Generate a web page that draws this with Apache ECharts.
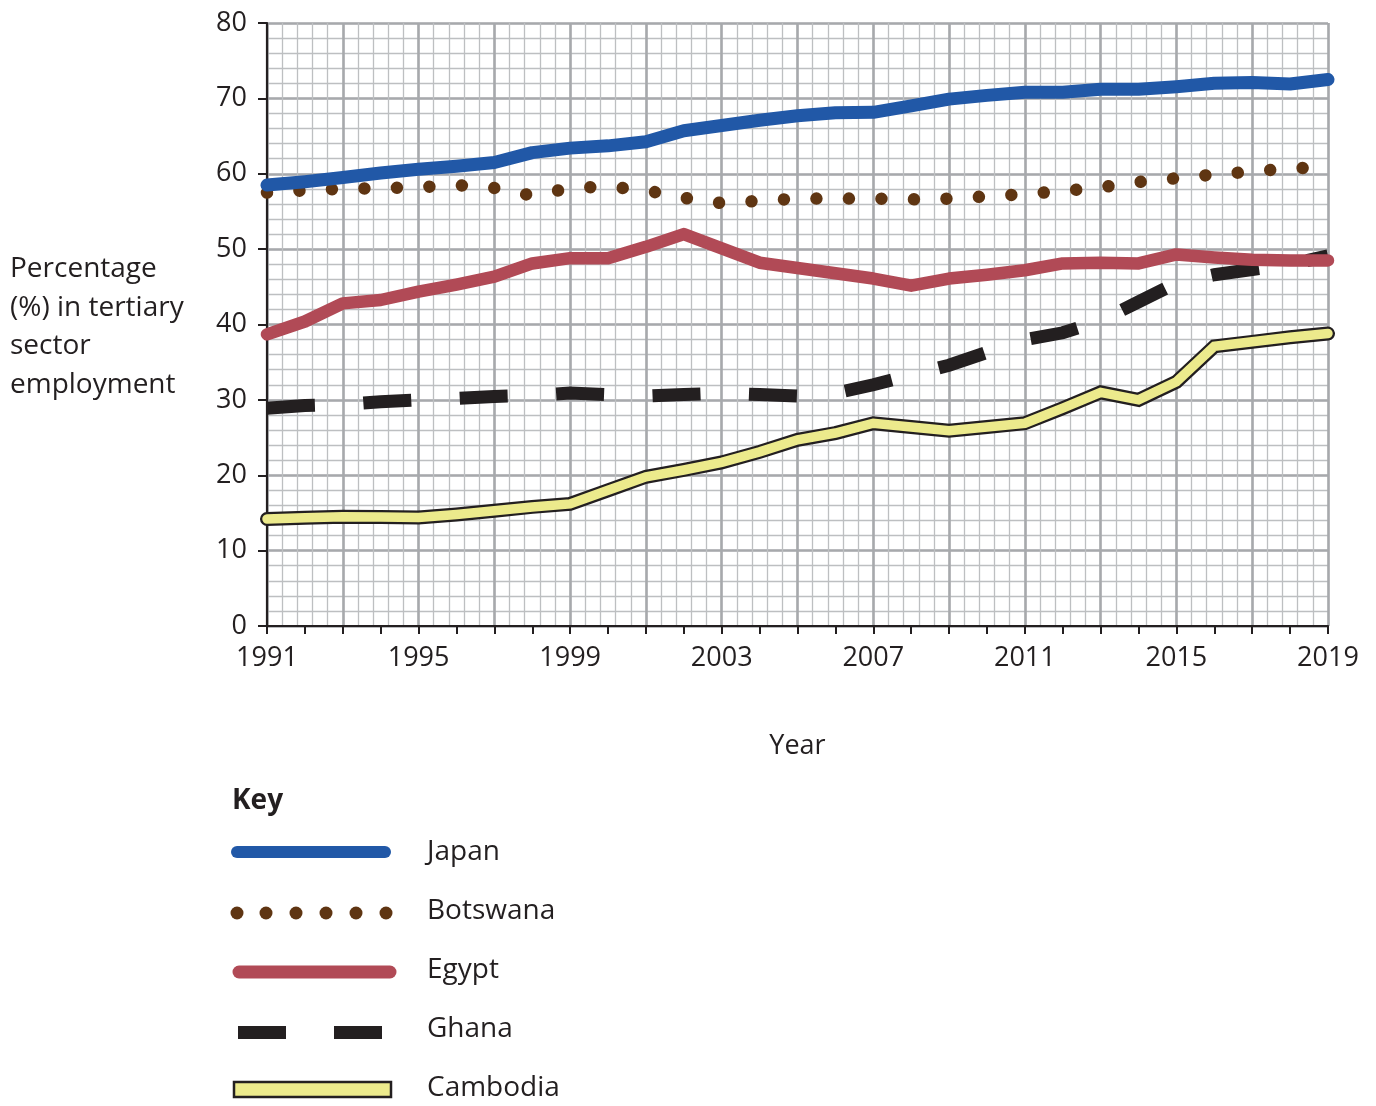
<!DOCTYPE html>
<html>
<head>
<meta charset="utf-8">
<script src="https://cdn.jsdelivr.net/npm/echarts@6/dist/echarts.min.js"></script>
<style>
  html, body { margin: 0; padding: 0; background: #ffffff; }
  #chart { width: 1376px; height: 1106px; }
</style>
</head>
<body>
<div id="chart"></div>
<script>
// ---- Data ----
const years = [1991, 1992, 1993, 1994, 1995, 1996, 1997, 1998, 1999, 2000,
               2001, 2002, 2003, 2004, 2005, 2006, 2007, 2008, 2009, 2010,
               2011, 2012, 2013, 2014, 2015, 2016, 2017, 2018, 2019];
const japan    = [58.5, 58.95, 59.5, 60.1, 60.6, 61.0, 61.5, 62.8, 63.4, 63.7,
                  64.25, 65.7, 66.4, 67.1, 67.7, 68.1, 68.15, 69.0, 69.9, 70.4,
                  70.8, 70.8, 71.2, 71.2, 71.55, 72.0, 72.1, 71.9, 72.5];
const botswana = [57.5, 57.8, 58.0, 58.1, 58.2, 58.5, 58.1, 57.1, 58.1, 58.3,
                  57.8, 56.8, 56.1, 56.4, 56.7, 56.7, 56.7, 56.6, 56.7, 57.0,
                  57.3, 57.7, 58.2, 58.9, 59.4, 59.9, 60.3, 60.7, 60.9];
const egypt    = [38.7, 40.4, 42.8, 43.25, 44.35, 45.3, 46.35, 48.1, 48.8, 48.8,
                  50.3, 52.0, 50.1, 48.2, 47.5, 46.8, 46.1, 45.15, 46.1, 46.6,
                  47.2, 48.1, 48.2, 48.1, 49.3, 48.9, 48.6, 48.5, 48.5];
const ghana    = [28.9, 29.25, 29.4, 29.75, 30.0, 30.2, 30.45, 30.6, 30.9, 30.7,
                  30.5, 30.7, 30.9, 30.7, 30.5, 30.9, 32.0, 33.3, 34.6, 36.3,
                  38.0, 38.9, 40.5, 43.0, 45.5, 46.6, 47.3, 48.0, 49.1];
const cambodia = [14.2, 14.35, 14.5, 14.45, 14.4, 14.8, 15.3, 15.8, 16.2, 18.0,
                  19.8, 20.7, 21.7, 23.1, 24.7, 25.6, 26.9, 26.4, 25.9, 26.4,
                  26.9, 28.9, 31.0, 30.0, 32.4, 37.1, 37.7, 38.3, 38.8];
const yTicks = [0, 10, 20, 30, 40, 50, 60, 70, 80];
const xLabelYears = [1991, 1995, 1999, 2003, 2007, 2011, 2015, 2019];
const yAxisTitle = ['Percentage', '(%) in tertiary', 'sector', 'employment'];
const xAxisTitle = 'Year';
const keyTitle = 'Key';
const keyNames = ['Japan', 'Botswana', 'Egypt', 'Ghana', 'Cambodia'];

// ---- Styles ----
const INK = '#231F20';
const C_JAPAN = '#2158A7';
const C_BOTS = '#5F3512';
const C_EGYPT = '#B14A56';
const C_GHANA = '#231F20';
const C_CAMB = '#ECEA8C';
const MAJOR = '#A7A9AC';
const MINOR = '#BDBFC1';
const FONT = '"Open Sans", "Noto Sans", sans-serif';
const FS = 27;
const FS_T = 28;

const pairs = arr => years.map((y, i) => [y, arr[i]]);

const chart = echarts.init(document.getElementById('chart'), null, { renderer: 'canvas' });

const grid = { left: 267, top: 23, width: 1061, height: 603, containLabel: false, outerBoundsMode: 'none' };

const hiddenAxisBase = {
  type: 'value', axisLine: { show: false }, axisTick: { show: false },
  axisLabel: { show: false }, z: 0
};

const keyX = 232, keyTextX = 427;
const keyRows = [852, 911, 970, 1029, 1088];

const graphics = [];
// y-axis title
graphics.push({
  type: 'text', left: 10, top: 250,
  style: { text: yAxisTitle.join('\n'), font: `${FS_T}px ${FONT}`, fill: INK, lineHeight: 38.5 }
});
// Key title
graphics.push({
  type: 'text', x: keyX, y: 801,
  style: { text: keyTitle, font: `bold ${FS_T}px ${FONT}`, fill: INK, textVerticalAlign: 'middle' }
});
// Key samples
graphics.push({ type: 'line', shape: { x1: 237, y1: keyRows[0], x2: 385, y2: keyRows[0] },
  style: { stroke: C_JAPAN, lineWidth: 12, lineCap: 'round' } });
[237, 266, 296, 326, 356, 386].forEach(cx => {
  graphics.push({ type: 'circle', shape: { cx: cx, cy: keyRows[1] + 2, r: 6.5 }, style: { fill: C_BOTS } });
});
graphics.push({ type: 'line', shape: { x1: 239, y1: keyRows[2] + 2, x2: 390, y2: keyRows[2] + 2 },
  style: { stroke: C_EGYPT, lineWidth: 13, lineCap: 'round' } });
graphics.push({ type: 'rect', shape: { x: 238, y: keyRows[3] - 3, width: 48, height: 13 }, style: { fill: C_GHANA } });
graphics.push({ type: 'rect', shape: { x: 334, y: keyRows[3] - 3, width: 48, height: 13 }, style: { fill: C_GHANA } });
graphics.push({ type: 'rect', shape: { x: 234, y: keyRows[4] - 6, width: 157, height: 15 },
  style: { fill: C_CAMB, stroke: INK, lineWidth: 2.5 } });
keyNames.forEach((n, i) => {
  graphics.push({ type: 'text', x: keyTextX, y: keyRows[i],
    style: { text: n, font: `${FS_T}px ${FONT}`, fill: INK, textVerticalAlign: 'middle' } });
});

const lineSeries = (name, data, style, z) => ({
  name, type: 'line', data: pairs(data), xAxisIndex: 2, yAxisIndex: 1,
  showSymbol: false, symbol: 'none', silent: true, z: z,
  lineStyle: style, emphasis: { disabled: true }
});

const option = {
  animation: false,
  backgroundColor: '#ffffff',
  textStyle: { fontFamily: FONT },
  grid: grid,
  xAxis: [
    // minor vertical grid (every 0.4 year)
    Object.assign({}, hiddenAxisBase, { position: 'bottom', min: 0, max: 70, interval: 1,
      splitLine: { show: true, lineStyle: { color: MINOR, width: 1.3 } } }),
    // major vertical grid (every 2 years)
    Object.assign({}, hiddenAxisBase, { position: 'bottom', min: 0, max: 14, interval: 1,
      splitLine: { show: true, lineStyle: { color: MAJOR, width: 2.6 } } }),
    // main axis
    {
      type: 'value', position: 'bottom', min: 1991, max: 2019, interval: 1,
      name: xAxisTitle, nameLocation: 'middle', nameGap: 107,
      nameTextStyle: { fontSize: FS, color: INK, fontFamily: FONT },
      axisLine: { show: true, onZero: false, lineStyle: { color: INK, width: 2.2 } },
      axisTick: { show: true, length: 8, lineStyle: { color: INK, width: 2 } },
      axisLabel: {
        show: true, margin: 19, fontSize: FS, color: INK, fontFamily: FONT,
        formatter: v => (xLabelYears.indexOf(v) >= 0 ? String(v) : '')
      },
      splitLine: { show: false }
    }
  ],
  yAxis: [
    // minor horizontal grid (every 2 units)
    Object.assign({}, hiddenAxisBase, { position: 'left', min: 0, max: 40, interval: 1,
      splitLine: { show: true, lineStyle: { color: MINOR, width: 1.3 } } }),
    // main axis with major grid
    {
      type: 'value', position: 'left', min: 0, max: 80, interval: 10,
      axisLine: { show: true, onZero: false, lineStyle: { color: INK, width: 2.2 } },
      axisTick: { show: true, length: 9, lineStyle: { color: INK, width: 2 } },
      axisLabel: {
        show: true, margin: 20, fontSize: FS, color: INK, fontFamily: FONT,
        formatter: v => (yTicks.indexOf(v) >= 0 ? String(v) : '')
      },
      splitLine: { show: true, lineStyle: { color: MAJOR, width: 2.6 } }
    }
  ],
  series: [
    lineSeries('Ghana', ghana, { color: C_GHANA, width: 13, type: [48, 48.5], cap: 'butt', join: 'miter' }, 3),
    lineSeries('Egypt', egypt, { color: C_EGYPT, width: 12.5, cap: 'round', join: 'round' }, 4),
    lineSeries('Botswana', botswana, { color: C_BOTS, width: 12.5, type: [0.01, 32.5], cap: 'round', join: 'round' }, 5),
    lineSeries('Japan', japan, { color: C_JAPAN, width: 13, cap: 'round', join: 'round' }, 6),
    lineSeries('Cambodia outline', cambodia, { color: INK, width: 14, cap: 'round', join: 'miter' }, 7),
    lineSeries('Cambodia', cambodia, { color: C_CAMB, width: 9.5, cap: 'round', join: 'miter' }, 8)
  ],
  graphic: graphics
};

chart.setOption(option);
</script>
</body>
</html>
